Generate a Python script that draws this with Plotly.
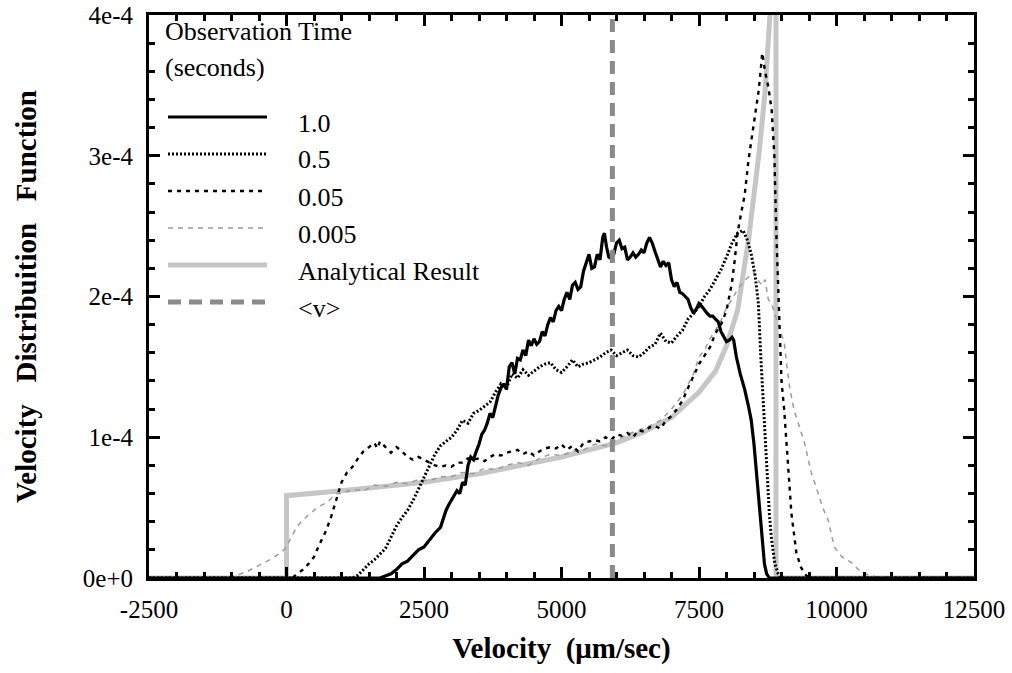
import plotly.graph_objects as go

# ---------------- data (velocity in um/s, values in units of 1e-4) ----------------
SCALE = 1e-4

v_t1 = [-2500, 1700, 1900, 2000, 2100, 2200, 2300, 2400, 2500, 2600, 2700, 2800, 2900, 2950, 3000, 3050,
        3100, 3150, 3200, 3250, 3300, 3350, 3400, 3450, 3500, 3550, 3600, 3650, 3700, 3750, 3800, 3850,
        3900, 3950, 4000, 4050, 4100, 4150, 4200, 4250, 4300, 4350, 4400, 4450, 4500, 4550, 4600, 4650,
        4700, 4750, 4800, 4850, 4900, 4950, 5000, 5050, 5100, 5150, 5200, 5250, 5300, 5350, 5400, 5450,
        5500, 5550, 5600, 5650, 5700, 5750, 5780, 5820, 5860, 5900, 5950, 6000, 6050, 6100, 6150, 6200,
        6250, 6300, 6350, 6400, 6450, 6500, 6550, 6600, 6650, 6700, 6750, 6800, 6850, 6900, 6950, 7000,
        7050, 7100, 7150, 7200, 7250, 7300, 7350, 7400, 7450, 7500, 7550, 7600, 7650, 7700, 7750, 7800,
        7850, 7900, 7950, 8000, 8050, 8100, 8130, 8180, 8250, 8330, 8400, 8450, 8500, 8550, 8580, 8620,
        8660, 8690, 8730, 8780, 12500]
f_t1 = [0, 0, 0.03, 0.06, 0.10, 0.12, 0.16, 0.20, 0.22, 0.27, 0.32, 0.36, 0.48, 0.52, 0.55, 0.58,
        0.62, 0.60, 0.68, 0.66, 0.80, 0.86, 0.84, 0.90, 0.95, 1.02, 1.05, 1.10, 1.17, 1.14, 1.22, 1.30,
        1.35, 1.38, 1.34, 1.50, 1.53, 1.45, 1.56, 1.55, 1.62, 1.58, 1.69, 1.65, 1.70, 1.66, 1.68, 1.75,
        1.72, 1.80, 1.85, 1.82, 1.90, 1.93, 1.90, 1.98, 2.03, 1.98, 2.08, 2.10, 2.05, 2.07, 2.18, 2.25,
        2.30, 2.20, 2.21, 2.30, 2.26, 2.42, 2.45, 2.35, 2.28, 2.27, 2.30, 2.38, 2.40, 2.34, 2.35, 2.26,
        2.28, 2.31, 2.28, 2.30, 2.33, 2.31, 2.38, 2.42, 2.38, 2.32, 2.27, 2.21, 2.25, 2.22, 2.24, 2.12,
        2.07, 2.10, 2.03, 2.02, 2.00, 1.98, 1.92, 1.88, 1.91, 1.95, 1.93, 1.90, 1.88, 1.86, 1.86, 1.84,
        1.82, 1.75, 1.71, 1.68, 1.69, 1.71, 1.69, 1.57, 1.45, 1.34, 1.22, 1.12, 0.95, 0.72, 0.60, 0.40,
        0.20, 0.10, 0.03, 0, 0]

v_t05 = [-2500, 1200, 1300, 1400, 1500, 1600, 1700, 1800, 1900, 2000, 2100, 2200, 2300, 2400, 2500, 2600,
         2700, 2800, 2900, 3000, 3100, 3200, 3300, 3400, 3500, 3600, 3700, 3800, 3900, 4000, 4100, 4200,
         4300, 4400, 4500, 4600, 4700, 4800, 4900, 5000, 5100, 5200, 5300, 5400, 5500, 5600, 5700, 5800,
         5900, 6000, 6100, 6200, 6300, 6400, 6500, 6600, 6700, 6800, 6900, 7000, 7100, 7200, 7300, 7400,
         7500, 7600, 7700, 7800, 7900, 8000, 8100, 8200, 8300, 8380, 8450, 8520, 8580, 8620, 8660, 8700,
         8740, 8780, 8820, 8880, 8940, 9000, 12500]
f_t05 = [0, 0, 0.02, 0.06, 0.10, 0.13, 0.17, 0.21, 0.29, 0.37, 0.43, 0.48, 0.55, 0.63, 0.72, 0.80,
         0.88, 0.94, 0.97, 1.00, 1.05, 1.12, 1.10, 1.17, 1.19, 1.22, 1.25, 1.32, 1.38, 1.35, 1.45, 1.42,
         1.48, 1.44, 1.47, 1.50, 1.52, 1.53, 1.48, 1.46, 1.50, 1.55, 1.50, 1.52, 1.53, 1.55, 1.57, 1.60,
         1.62, 1.58, 1.60, 1.62, 1.58, 1.57, 1.60, 1.64, 1.66, 1.74, 1.68, 1.67, 1.72, 1.76, 1.84, 1.88,
         1.93, 2.00, 2.05, 2.12, 2.19, 2.28, 2.38, 2.45, 2.47, 2.40, 2.30, 2.15, 1.95, 1.60, 1.30, 1.00,
         0.65, 0.45, 0.27, 0.10, 0.03, 0, 0]

v_t005 = [-2500, 100, 200, 300, 400, 500, 600, 700, 800, 900, 1000, 1100, 1200, 1300, 1400, 1500,
          1600, 1650, 1700, 1800, 1900, 2000, 2100, 2200, 2300, 2400, 2500, 2600, 2700, 2800, 2900, 3000,
          3100, 3200, 3300, 3400, 3500, 3600, 3700, 3800, 3900, 4000, 4100, 4200, 4300, 4400, 4500, 4600,
          4700, 4800, 4900, 5000, 5100, 5200, 5300, 5400, 5500, 5600, 5700, 5800, 5900, 6000, 6100, 6200,
          6300, 6400, 6500, 6600, 6700, 6800, 6900, 7000, 7100, 7200, 7300, 7400, 7500, 7600, 7700, 7800,
          7900, 8000, 8100, 8150, 8200, 8270, 8330, 8400, 8450, 8510, 8580, 8610, 8650, 8700, 8760, 8820,
          8870, 8910, 8950, 9000, 9050, 9120, 9180, 9270, 9350, 9420, 9500, 12500]
f_t005 = [0, 0, 0.03, 0.06, 0.10, 0.15, 0.24, 0.32, 0.42, 0.55, 0.68, 0.75, 0.79, 0.85, 0.90, 0.93,
          0.96, 0.92, 0.97, 0.93, 0.89, 0.93, 0.90, 0.86, 0.84, 0.86, 0.84, 0.82, 0.80, 0.79, 0.80, 0.79,
          0.82, 0.82, 0.85, 0.84, 0.85, 0.83, 0.86, 0.88, 0.87, 0.89, 0.90, 0.91, 0.88, 0.90, 0.87, 0.90,
          0.92, 0.93, 0.92, 0.95, 0.91, 0.94, 0.90, 0.96, 0.97, 0.98, 0.97, 1.00, 0.98, 1.02, 1.01, 1.03,
          1.00, 1.05, 1.04, 1.07, 1.08, 1.06, 1.12, 1.15, 1.20, 1.26, 1.35, 1.43, 1.52, 1.58, 1.64, 1.74,
          1.80, 1.90, 2.10, 2.26, 2.45, 2.60, 2.72, 2.97, 3.10, 3.28, 3.45, 3.56, 3.73, 3.60, 3.49, 3.33,
          3.00, 2.40, 1.88, 1.40, 1.19, 0.82, 0.46, 0.18, 0.08, 0.03, 0, 0]

v_t0005 = [-2500, -1100, -900, -700, -500, -300, -100, 0, 100, 200, 300, 400, 500, 600, 700, 800,
           900, 1000, 1200, 1400, 1600, 1800, 2000, 2200, 2400, 2600, 2800, 3000, 3200, 3400, 3600, 3800,
           4000, 4200, 4400, 4600, 4800, 5000, 5200, 5400, 5600, 5800, 6000, 6200, 6400, 6600, 6800, 7000,
           7200, 7400, 7500, 7600, 7700, 7800, 7900, 8000, 8100, 8200, 8300, 8400, 8500, 8600, 8650, 8700,
           8760, 8820, 8900, 9000, 9050, 9100, 9150, 9230, 9300, 9420, 9480, 9540, 9600, 9670, 9750, 9850,
           9960, 10100, 10270, 10400, 10510, 10700, 10870, 11500, 12500]
f_t0005 = [0, 0, 0.02, 0.05, 0.09, 0.13, 0.18, 0.22, 0.30, 0.37, 0.41, 0.45, 0.48, 0.51, 0.53, 0.56,
           0.60, 0.60, 0.63, 0.62, 0.66, 0.65, 0.68, 0.67, 0.70, 0.69, 0.72, 0.72, 0.75, 0.74, 0.78, 0.77,
           0.80, 0.82, 0.80, 0.85, 0.88, 0.87, 0.90, 0.91, 0.95, 0.94, 0.98, 1.02, 1.05, 1.08, 1.12, 1.20,
           1.30, 1.45, 1.57, 1.62, 1.70, 1.76, 1.83, 1.92, 1.98, 2.05, 2.10, 2.14, 2.17, 2.10, 2.08, 2.12,
           1.98, 1.95, 1.85, 1.74, 1.67, 1.50, 1.35, 1.19, 1.10, 0.96, 0.85, 0.75, 0.68, 0.60, 0.50, 0.41,
           0.22, 0.15, 0.11, 0.06, 0.03, 0.01, 0, 0.01, 0]

v_analytic = [-2500, 0, 0, 500, 1000, 1500, 2000, 2500, 3000, 3500, 4000, 4500, 5000, 5500, 6000, 6500,
              7000, 7500, 7800, 8000, 8200, 8400, 8500, 8600, 8700, 8790, 8840, 8900, 8900, 12500]
f_analytic = [0, 0, 0.585, 0.60, 0.62, 0.64, 0.66, 0.68, 0.71, 0.74, 0.78, 0.82, 0.86, 0.91, 0.96, 1.04,
              1.14, 1.32, 1.47, 1.65, 1.90, 2.40, 2.70, 3.05, 3.45, 4.00, 5.00, 8.00, 0, 0]

v_mean = 5925

legend_title = ["Observation Time", "(seconds)"]
legend_labels = ["1.0", "0.5", "0.05", "0.005", "Analytical Result", "<v>"]
x_ticks = [-2500, 0, 2500, 5000, 7500, 10000, 12500]
y_ticks = [0, 1e-4, 2e-4, 3e-4, 4e-4]
y_ticktext = ["0e+0", "1e-4", "2e-4", "3e-4", "4e-4"]

# ---------------- styles ----------------
styles = [
    dict(color="black", width=3.2, dash="solid"),
    dict(color="black", width=3.0, dash="2px,2px"),
    dict(color="black", width=2.4, dash="4px,5px"),
    dict(color="#9a9a9a", width=1.5, dash="5px,5px"),
    dict(color="#c6c6c6", width=5, dash="solid"),
    dict(color="#8a8a8a", width=5, dash="13px,8px"),
]
SERIF = "Liberation Serif, Times New Roman, serif"

fig = go.Figure()
series = [(v_t1, f_t1), (v_t05, f_t05), (v_t005, f_t005), (v_t0005, f_t0005), (v_analytic, f_analytic)]
order = [4, 3, 2, 1, 0]
for i in order:
    xs, fs = series[i]
    fig.add_trace(go.Scatter(x=xs, y=[f * SCALE for f in fs], mode="lines", line=styles[i],
                             name=legend_labels[i], showlegend=False, hoverinfo="skip"))
fig.add_trace(go.Scatter(x=[v_mean, v_mean], y=[0, 4e-4], mode="lines", line=styles[5],
                         name="<v>", showlegend=False, hoverinfo="skip"))

# ---------------- layout ----------------
W, H = 1012, 673
L, R, T, B = 149, 38, 15, 95
pw, ph = W - L - R, H - T - B


def px(xp):
    return (xp - L) / pw


def py(yp):
    return (H - B - yp) / ph


annotations = []
title_y = [32, 67]
for k, t in enumerate(legend_title):
    annotations.append(dict(text=t, x=px(163), y=py(title_y[k]), xref="paper", yref="paper",
                            xanchor="left", yanchor="middle", showarrow=False,
                            font=dict(family=SERIF, size=26, color="black")))
shapes = []
entry_y = [123, 160, 197, 234, 271, 308]
for k, lab in enumerate(legend_labels):
    annotations.append(dict(text=lab.replace("<", "&lt;").replace(">", "&gt;"), x=px(296), y=py(entry_y[k]),
                            xref="paper", yref="paper", xanchor="left", yanchor="middle",
                            showarrow=False, font=dict(family=SERIF, size=26, color="black")))
    shapes.append(dict(type="line", xref="paper", yref="paper", x0=px(168), x1=px(267),
                       y0=py(entry_y[k] - 6), y1=py(entry_y[k] - 6), line=styles[k]))

axis_common = dict(
    showline=True, linecolor="black", linewidth=3, mirror="allticks",
    ticks="inside", ticklen=11, tickwidth=3, tickcolor="black",
    showgrid=False, zeroline=False, automargin=False,
    tickfont=dict(family=SERIF, size=25, color="black"),
)
fig.update_layout(
    width=W, height=H,
    margin=dict(l=L, r=R, t=T, b=B, pad=0, autoexpand=False),
    paper_bgcolor="white", plot_bgcolor="white",
    showlegend=False,
    xaxis=dict(range=[-2500, 12500], tickvals=x_ticks, ticktext=[str(t) for t in x_ticks],
               minor=dict(dtick=500, tick0=0, ticks="inside", ticklen=6, tickwidth=2.5, tickcolor="black"),
               title=dict(text="Velocity\u00a0\u00a0(\u03bcm/sec)", standoff=16,
                          font=dict(family=SERIF, size=29, color="black", weight="bold")),
               ticklabelstandoff=7,
               **axis_common),
    yaxis=dict(range=[0, 4e-4], tickvals=y_ticks, ticktext=y_ticktext,
               minor=dict(dtick=2e-5, tick0=0, ticks="inside", ticklen=6, tickwidth=2.5, tickcolor="black"),
               title=dict(text="Velocity\u00a0\u00a0\u00a0Distribuition\u00a0\u00a0\u00a0Function", standoff=38,
                          font=dict(family=SERIF, size=29, color="black", weight="bold")),
               ticklabelstandoff=8,
               **axis_common),
    annotations=annotations,
    shapes=shapes,
)

fig.write_html("out.html")
